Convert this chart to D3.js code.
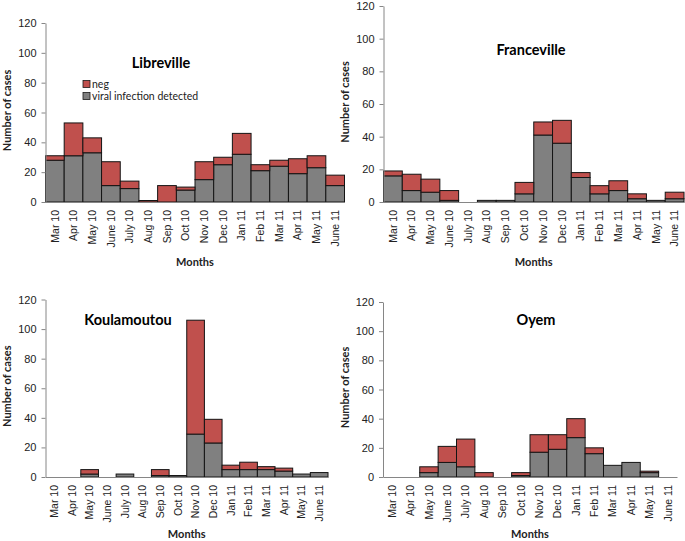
<!DOCTYPE html>
<html><head><meta charset="utf-8">
<script src="https://cdn.jsdelivr.net/npm/d3@7"></script>
<style>
html,body{margin:0;padding:0;background:#fff;}
svg{display:block;font-family:Lato,"Open Sans",sans-serif;}
</style></head>
<body><svg id="c" width="685" height="541"></svg>
<script>
const months = ["Mar 10","Apr 10","May 10","June 10","July 10","Aug 10","Sep 10","Oct 10","Nov 10","Dec 10","Jan 11","Feb 11","Mar 11","Apr 11","May 11","June 11"];
const yTicks = [0,20,40,60,80,100,120];
const seriesNames = ["viral infection detected","neg"];

const librevilleVirus = [28,31,33,11,9,0,0,8,15,25,32,21,24,19,23,11];
const librevilleNeg   = [3,22,10,16,5,1,11,2,12,5,14,4,4,10,8,7];
const francevilleVirus = [16,7,6,1,0,1,1,5,41,36,15,5,7,2,1,2];
const francevilleNeg   = [3,10,8,6,0,0,0,7,8,14,3,5,6,3,0,4];
const koulamoutouVirus = [0,0,2,0,2,0,1,1,29,23,5,5,5,4,2,3];
const koulamoutouNeg   = [0,0,3,0,0,0,4,0,77,16,3,5,2,2,0,0];
const oyemVirus = [0,0,3,10,7,0,0,1,17,19,27,16,8,10,3,0];
const oyemNeg   = [0,0,4,11,19,3,0,2,12,10,13,4,0,0,1,0];

const colors = {"viral infection detected":"#808080","neg":"#C0504D"};

const panels = [
  {title:"Libreville", virus:librevilleVirus, neg:librevilleNeg, x0:45.5, x1:344.5, yTop:23, yBot:202, tx:161, ty:63, ylx:7, my:262, legend:true},
  {title:"Franceville", virus:francevilleVirus, neg:francevilleNeg, x0:383.5, x1:684, yTop:6, yBot:202, tx:531, ty:50, ylx:345, my:262},
  {title:"Koulamoutou", virus:koulamoutouVirus, neg:koulamoutouNeg, x0:45.5, x1:328, yTop:299.5, yBot:477, tx:128, ty:320, ylx:7, my:534},
  {title:"Oyem", virus:oyemVirus, neg:oyemNeg, x0:383, x1:677, yTop:302, yBot:477, tx:536, ty:320, ylx:345, my:534}
];

const svg = d3.select("#c");

panels.forEach(p => {
  const g = svg.append("g");
  const x = d3.scaleBand().domain(months).range([p.x0, p.x1]).padding(0);
  const y = d3.scaleLinear().domain([0,120]).range([p.yBot, p.yTop]);
  const rows = months.map((m,i) => ({month:m, "viral infection detected":p.virus[i], "neg":p.neg[i]}));
  const stack = d3.stack().keys(seriesNames)(rows);

  stack.forEach(layer => {
    g.append("g").selectAll("rect")
      .data(layer.filter(d => d[1]-d[0] > 0))
      .join("rect")
      .attr("x", d => x(d.data.month))
      .attr("width", x.bandwidth())
      .attr("y", d => y(d[1]))
      .attr("height", d => y(d[0]) - y(d[1]))
      .attr("fill", colors[layer.key])
      .attr("stroke", "#141414")
      .attr("stroke-width", 1);
  });

  const ya = g.append("g").attr("transform", `translate(${p.x0},0)`)
    .call(d3.axisLeft(y).tickValues(yTicks).tickSize(4).tickSizeOuter(0).tickPadding(5));
  ya.select(".domain").attr("stroke","#868686");
  ya.selectAll(".tick line").attr("stroke","#868686");
  ya.selectAll("text").attr("font-size",11).attr("fill","#222");

  const xa = g.append("g").attr("transform", `translate(0,${p.yBot})`)
    .call(d3.axisBottom(x).tickSize(0).tickSizeOuter(0));
  xa.select(".domain").attr("stroke","#868686");
  xa.selectAll("text")
    .attr("font-size",10.5).attr("fill","#222")
    .attr("text-anchor","end")
    .attr("transform","rotate(-90)")
    .attr("x",-8).attr("y",0).attr("dy","0.35em");

  g.append("text").attr("x",p.tx).attr("y",p.ty).attr("dy","0.35em")
    .attr("text-anchor","middle").attr("font-weight","bold").attr("font-size",14.5)
    .attr("fill","#000").text(p.title);

  const cx = (p.x0+p.x1)/2;
  g.append("text").attr("x",cx).attr("y",p.my).attr("dy","0.35em")
    .attr("text-anchor","middle").attr("font-weight","bold").attr("font-size",11)
    .attr("fill","#222").text("Months");
  const cy = (p.yTop+p.yBot)/2 - 2;
  g.append("text").attr("transform",`translate(${p.ylx},${cy}) rotate(-90)`)
    .attr("dy","0.35em").attr("text-anchor","middle").attr("font-weight","bold")
    .attr("font-size",11).attr("fill","#222").text("Number of cases");

  if (p.legend) {
    const items = [["neg",84],["viral infection detected",96]];
    items.forEach(([k,yy]) => {
      g.append("rect").attr("x",83).attr("y",yy-3.5).attr("width",7).attr("height",7)
        .attr("fill",colors[k]).attr("stroke","#1a1a1a").attr("stroke-width",0.8);
      g.append("text").attr("x",92).attr("y",yy).attr("dy","0.35em")
        .attr("font-size",10.5).attr("fill","#222").text(k);
    });
  }
});
</script></body></html>
